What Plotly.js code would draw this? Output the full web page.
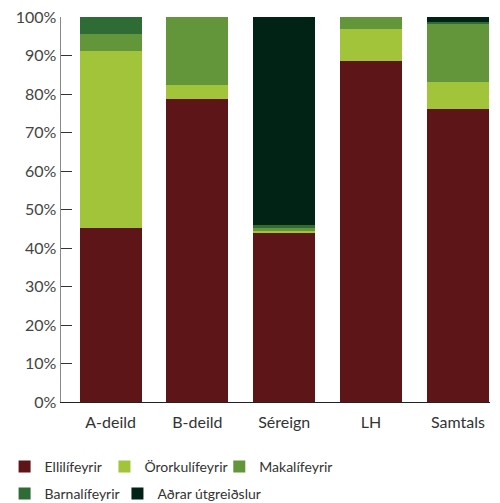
<!DOCTYPE html>
<html>
<head>
<meta charset="utf-8">
<script src="https://cdn.plot.ly/plotly-3.0.1.min.js"></script>
<style>html,body{margin:0;padding:0;background:#fff;}#chart{width:500px;height:503px;}</style>
</head>
<body>
<div id="chart"></div>
<script>
const categories = ["A-deild", "B-deild", "Séreign", "LH", "Samtals"];
const seriesNames = ["Ellilífeyrir", "Örorkulífeyrir", "Makalífeyrir", "Barnalífeyrir", "Aðrar útgreiðslur"];
const ellilifeyrir = [45.2, 78.6, 43.9, 88.6, 76.1];
const ororkulifeyrir = [46.0, 3.7, 0.5, 8.3, 6.9];
const makalifeyrir = [4.4, 17.7, 0.8, 3.1, 15.1];
const barnalifeyrir = [4.4, 0.0, 0.8, 0.0, 0.6];
const adrarUtgreidslur = [0.0, 0.0, 54.0, 0.0, 1.3];
const yTickValues = [0, 10, 20, 30, 40, 50, 60, 70, 80, 90, 100];

const colors = ["#5d1517", "#a1c43a", "#63963a", "#2e6b35", "#002315"];
const values = [ellilifeyrir, ororkulifeyrir, makalifeyrir, barnalifeyrir, adrarUtgreidslur];
const legendIds = ["legend", "legend2", "legend3", "legend4", "legend5"];

const traces = values.map((v, i) => ({
  type: "bar",
  name: seriesNames[i],
  x: categories,
  y: v,
  marker: { color: colors[i], line: { width: 0 } },
  legend: legendIds[i],
  hoverinfo: "name+y"
}));

const font = "Lato, 'Open Sans', sans-serif";
const legendPos = [
  { x: -0.1315, y: -0.127 },
  { x: 0.1013, y: -0.127 },
  { x: 0.3690, y: -0.127 },
  { x: -0.1315, y: -0.197 },
  { x: 0.1316, y: -0.197 }
];

const layout = {
  width: 500,
  height: 503,
  margin: { l: 60.5, r: 10, t: 17, b: 101, autoexpand: false },
  barmode: "stack",
  bargap: 0.287,
  paper_bgcolor: "#fff",
  plot_bgcolor: "#fff",
  font: { family: font, color: "#333", size: 15 },
  xaxis: {
    range: [-0.571, 4.37],
    showline: true,
    linecolor: "#222",
    linewidth: 1,
    ticks: "",
    showgrid: false,
    zeroline: false,
    ticklabelstandoff: 6,
    tickfont: { size: 16, color: "#333" },
    fixedrange: true
  },
  yaxis: {
    range: [0, 100],
    tickvals: yTickValues,
    ticktext: yTickValues.map(v => v + "%"),
    showline: true,
    linecolor: "#888",
    linewidth: 1.5,
    ticks: "inside",
    ticklen: 11,
    tickcolor: "#333",
    tickwidth: 1,
    showgrid: false,
    zeroline: false,
    tickfont: { size: 16, color: "#444" },
    fixedrange: true
  },
  showlegend: true
};

legendIds.forEach((id, i) => {
  layout[id] = {
    orientation: "h",
    x: legendPos[i].x, xanchor: "left",
    y: legendPos[i].y, yanchor: "top",
    font: { size: 14, color: "#333" },
    bgcolor: "rgba(0,0,0,0)"
  };
});

Plotly.newPlot("chart", traces, layout, { displayModeBar: false, staticPlot: true });
</script>
</body>
</html>
